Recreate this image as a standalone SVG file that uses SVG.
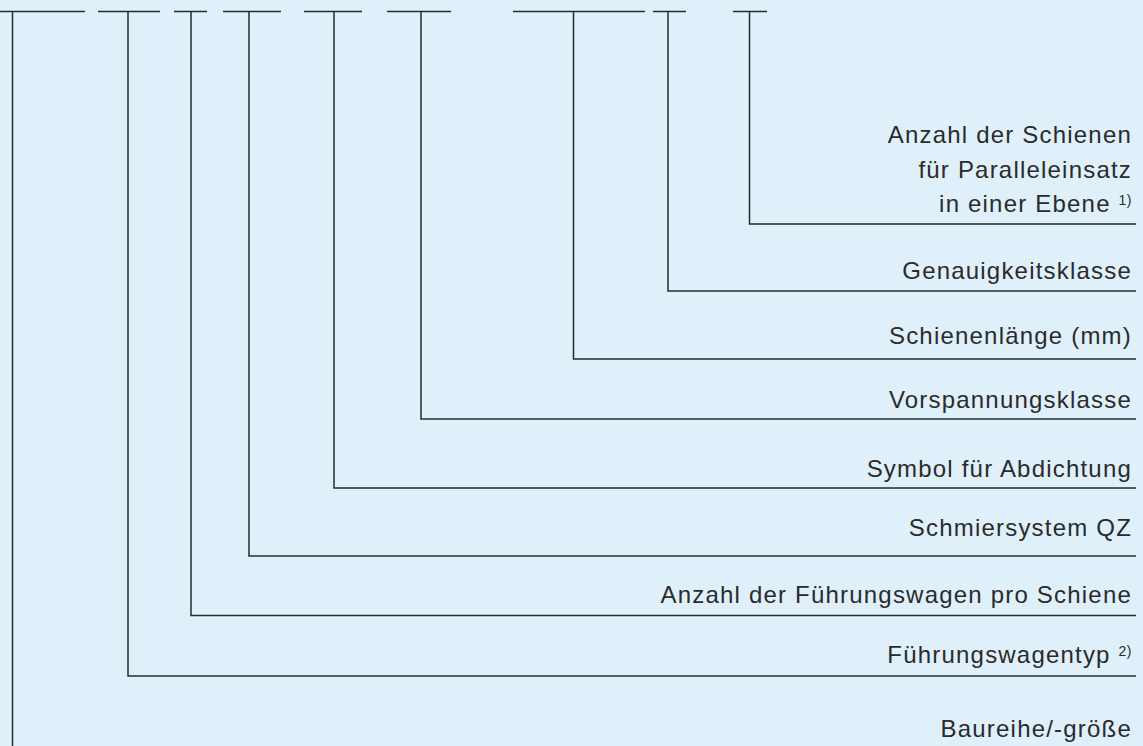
<svg xmlns="http://www.w3.org/2000/svg" width="1143" height="746" viewBox="0 0 1143 746">
<style>
.ln{fill:none;stroke:#2a2a2a;stroke-width:1.5}
.t{font-family:"Liberation Sans",Arial,sans-serif;font-size:24px;letter-spacing:1.2px;fill:#2b2b2b;text-anchor:end}
.sup{font-size:14px;letter-spacing:0.5px}
</style>
<rect x="0" y="0" width="1143" height="746" fill="#dff0fa"/>
<g id="code-bars" class="ln">
<path d="M0 11.5H85M98 11.5H160M174 11.5H207M223 11.5H281M304 11.5H362M387 11.5H451M513 11.5H645M653 11.5H686M733 11.5H767"/>
</g>
<g id="connectors" class="ln">
<path d="M12.5 11.5V746"/>
<path d="M128 11.5V676H1136"/>
<path d="M191 11.5V615.5H1136"/>
<path d="M249 11.5V556H1136"/>
<path d="M334 11.5V488H1136"/>
<path d="M421 11.5V419H1136"/>
<path d="M573.5 11.5V359H1136"/>
<path d="M668 11.5V291H1136"/>
<path d="M749.5 11.5V224H1136"/>
</g>
<g id="n-anzahl-schienen">
<text class="t" x="1132" y="143">Anzahl der Schienen</text>
<text class="t" x="1132" y="177.5">für Paralleleinsatz</text>
<text class="t" x="1132" y="212">in einer Ebene <tspan class="sup" dy="-7">1)</tspan></text>
</g>
<g id="n-genauigkeit"><text class="t" x="1132" y="279">Genauigkeitsklasse</text></g>
<g id="n-schienenlaenge"><text class="t" x="1132" y="344">Schienenlänge (mm)</text></g>
<g id="n-vorspannung"><text class="t" x="1132" y="408">Vorspannungsklasse</text></g>
<g id="n-abdichtung"><text class="t" x="1132" y="477">Symbol für Abdichtung</text></g>
<g id="n-schmiersystem"><text class="t" x="1132" y="536">Schmiersystem QZ</text></g>
<g id="n-anzahl-wagen"><text class="t" x="1132" y="603">Anzahl der Führungswagen pro Schiene</text></g>
<g id="n-wagentyp"><text class="t" x="1132" y="663">Führungswagentyp <tspan class="sup" dy="-7">2)</tspan></text></g>
<g id="n-baureihe"><text class="t" x="1132" y="737">Baureihe/-größe</text></g>
</svg>
